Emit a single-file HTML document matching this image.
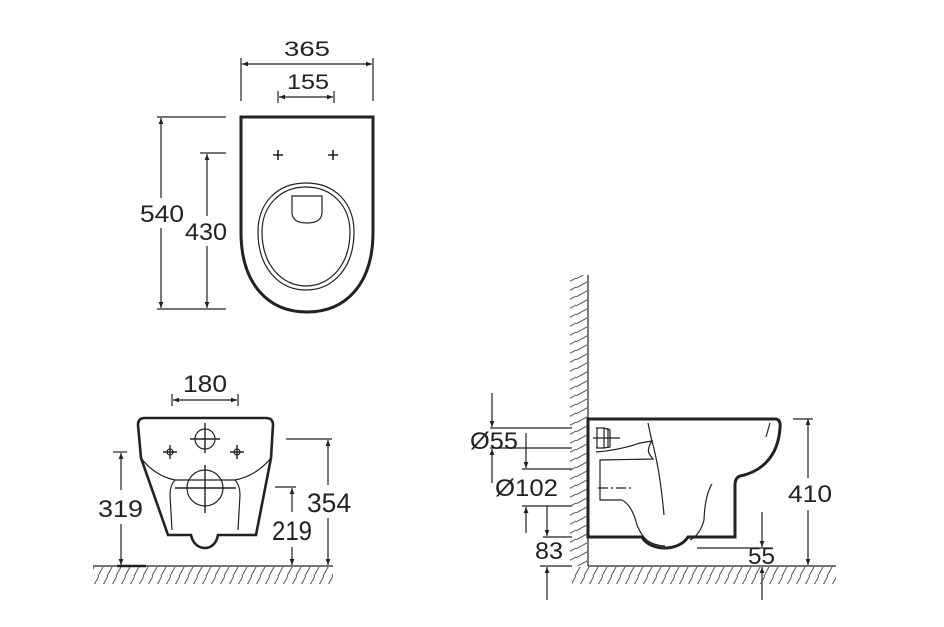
<!DOCTYPE html>
<html><head><meta charset="utf-8"><style>
html,body{margin:0;padding:0;background:#fff;}
svg{display:block}
text{font-family:"Liberation Sans",sans-serif;font-size:24px;fill:#222;}
</style></head><body>
<svg width="944" height="627" viewBox="0 0 944 627" xmlns="http://www.w3.org/2000/svg">
<defs>
<marker id="a" viewBox="0 0 10 10" refX="10" refY="5" markerWidth="10" markerHeight="6" orient="auto-start-reverse" markerUnits="userSpaceOnUse"><path d="M0,1 L10,5 L0,9 Z" fill="#222"/></marker>
<pattern id="h" width="9" height="18" patternUnits="userSpaceOnUse"><line x1="-1" y1="18" x2="9" y2="0" stroke="#555" stroke-width="1"/><line x1="8" y1="18" x2="18" y2="0" stroke="#555" stroke-width="1"/></pattern>
<pattern id="hv" width="18" height="9" patternUnits="userSpaceOnUse"><line x1="0" y1="9" x2="18" y2="-1" stroke="#555" stroke-width="1"/><line x1="0" y1="18" x2="18" y2="8" stroke="#555" stroke-width="1"/></pattern>
</defs>
<g stroke="#222" fill="none" stroke-width="1.2">
<!-- TOP VIEW -->
<path d="M241,117 L373,117 L373,232 C373,285 345,312 307,312 C269,312 241,285 241,232 Z" stroke-width="3"/>
<path d="M306,183 C335,183 354,203 354,232 C354,268 333,290 306,290 C279,290 258,268 258,232 C258,203 277,183 306,183 Z"/>
<path d="M306,187 C332,187 350,206 350,232 C350,265 330,286 306,286 C282,286 262,265 262,232 C262,206 280,187 306,187 Z"/>
<path d="M292,196 L322,196 L322,212 C322,220 316,223 307,223 C298,223 292,220 292,212 Z"/>
<path d="M273,155 h10 M278,150 v10 M328,155 h10 M333,150 v10" stroke-width="1.6"/>
<line x1="241" y1="58" x2="241" y2="101"/><line x1="373" y1="58" x2="373" y2="101"/>
<line x1="242" y1="64" x2="372" y2="64" marker-start="url(#a)" marker-end="url(#a)"/>
<line x1="278" y1="91" x2="278" y2="103"/><line x1="334" y1="91" x2="334" y2="103"/>
<line x1="279" y1="97" x2="333" y2="97" marker-start="url(#a)" marker-end="url(#a)"/>
<line x1="157" y1="117" x2="226" y2="117"/><line x1="157" y1="309" x2="226" y2="309"/>
<line x1="161" y1="118" x2="161" y2="198" marker-start="url(#a)"/><line x1="161" y1="228" x2="161" y2="308" marker-end="url(#a)"/>
<line x1="200" y1="153" x2="226" y2="153"/>
<line x1="207" y1="154" x2="207" y2="216" marker-start="url(#a)"/><line x1="207" y1="246" x2="207" y2="308" marker-end="url(#a)"/>
<!-- FRONT VIEW -->
<path d="M145,418 L266,418 Q273,418 273,425 L271,458 L256,535 L218,535 C216,545 210,548 205,548 C200,548 193,545 191,535 L168,535 L141,458 L138,425 Q138,418 145,418 Z" stroke-width="2.6"/>
<path d="M141,458 Q155,476 175,480 L235,480 Q256,476 271,458"/>
<path d="M175,480 Q170,485 170,495 L172,530 M235,480 Q240,485 240,495 L238,530"/>
<circle cx="205" cy="439" r="10"/><circle cx="205" cy="488" r="18"/>
<path d="M190,439 h30 M205,423 v30 M175,488 h61 M205,465 v48" stroke-width="1.4"/>
<path d="M163,452 h14 M170,445 v14 M230,452 h14 M237,445 v14" stroke-width="1.4"/>
<circle cx="170" cy="452" r="3"/><circle cx="237" cy="452" r="3"/>
<line x1="172" y1="394" x2="172" y2="406"/><line x1="238" y1="394" x2="238" y2="406"/>
<line x1="173" y1="400" x2="237" y2="400" marker-start="url(#a)" marker-end="url(#a)"/>
<line x1="113" y1="452" x2="127" y2="452"/>
<line x1="121" y1="453" x2="121" y2="490" marker-start="url(#a)"/><line x1="121" y1="524" x2="121" y2="565" marker-end="url(#a)"/>
<line x1="286" y1="439" x2="332" y2="439"/>
<line x1="328" y1="440" x2="328" y2="485" marker-start="url(#a)"/><line x1="328" y1="518" x2="328" y2="565" marker-end="url(#a)"/>
<line x1="275" y1="487" x2="296" y2="487"/>
<line x1="292" y1="488" x2="292" y2="512" marker-start="url(#a)"/><line x1="292" y1="547" x2="292" y2="565" marker-end="url(#a)"/>
<line x1="93" y1="566" x2="333" y2="566"/>
<line x1="117" y1="566" x2="146" y2="566" stroke-width="2.5"/>
<!-- SIDE VIEW -->
<line x1="588" y1="275" x2="588" y2="566"/>
<line x1="588" y1="566" x2="836" y2="566"/>
<path d="M588,419 L776,419 Q781,420 780,428 C778,458 760,472 740,476 Q735,478 735,485 L735,537 L688,537 C683,545 673,548 665,548 C657,548 646,545 642,537 L588,537 Z" stroke-width="3"/>
<path d="M596,428 L604,428 L604,448 L596,448 M597,428 L597,448 M604,428 L610,430 L610,447 L604,448 M593,438 H620 M608,428 V448"/>
<path d="M596,452 Q620,450 640,443 L652,441 Q646,450 650,455 L653,459 L600,460 L600,500 L622,500 Q632,505 637,525 C643,540 650,545 665,546 M652,441 Q660,470 664,515 M712,484 Q705,495 704,520 Q700,535 690,540"/>
<path d="M648,423 L652,442 M770,423 Q768,430 766,437"/>
<line x1="598" y1="488" x2="632" y2="488" stroke-dasharray="10,3,2,3"/>
<line x1="808" y1="419" x2="808" y2="478" marker-start="url(#a)"/><line x1="808" y1="510" x2="808" y2="565" marker-end="url(#a)"/>
<line x1="793" y1="419" x2="813" y2="419"/>
<line x1="697" y1="548" x2="770" y2="548"/>
<line x1="762" y1="512" x2="762" y2="547" marker-end="url(#a)"/>
<line x1="762" y1="600" x2="762" y2="567" marker-end="url(#a)"/>
<line x1="492" y1="393" x2="492" y2="427" marker-end="url(#a)"/>
<line x1="490" y1="428" x2="572" y2="428"/><line x1="490" y1="448" x2="572" y2="448"/>
<line x1="492" y1="483" x2="492" y2="449" marker-end="url(#a)"/>
<line x1="526" y1="433" x2="526" y2="468" marker-end="url(#a)"/>
<line x1="522" y1="469" x2="572" y2="469"/><line x1="522" y1="506" x2="572" y2="506"/>
<line x1="526" y1="533" x2="526" y2="507" marker-end="url(#a)"/>
<line x1="547" y1="506" x2="547" y2="536" marker-end="url(#a)"/>
<line x1="543" y1="537" x2="572" y2="537"/><line x1="540" y1="566" x2="572" y2="566"/>
<line x1="547" y1="600" x2="547" y2="567" marker-end="url(#a)"/>
</g>
<rect x="93" y="567" width="240" height="17" fill="url(#h)"/>
<rect x="572" y="567" width="264" height="17" fill="url(#h)"/>
<rect x="570" y="275" width="17" height="291" fill="url(#hv)"/>
<g>
<text x="284" y="56" style="font-size:21px" textLength="46" lengthAdjust="spacingAndGlyphs">365</text>
<text x="287" y="89" style="font-size:21px" textLength="42" lengthAdjust="spacingAndGlyphs">155</text>
<text x="140" y="222" textLength="44" lengthAdjust="spacingAndGlyphs">540</text>
<text x="185" y="240" textLength="42" lengthAdjust="spacingAndGlyphs">430</text>
<text x="183" y="392" textLength="44" lengthAdjust="spacingAndGlyphs">180</text>
<text x="98" y="517" textLength="45" lengthAdjust="spacingAndGlyphs">319</text>
<text x="307" y="512" style="font-size:27px" textLength="44" lengthAdjust="spacingAndGlyphs">354</text>
<text x="272" y="540" style="font-size:27px" textLength="40" lengthAdjust="spacingAndGlyphs">219</text>
<text x="788" y="502" textLength="44" lengthAdjust="spacingAndGlyphs">410</text>
<text x="748" y="564" textLength="27" lengthAdjust="spacingAndGlyphs">55</text>
<text x="470" y="449" textLength="48" lengthAdjust="spacingAndGlyphs">Ø55</text>
<text x="495" y="496" textLength="63" lengthAdjust="spacingAndGlyphs">Ø102</text>
<text x="535" y="559" textLength="28" lengthAdjust="spacingAndGlyphs">83</text>
</g>
</svg>
</body></html>
